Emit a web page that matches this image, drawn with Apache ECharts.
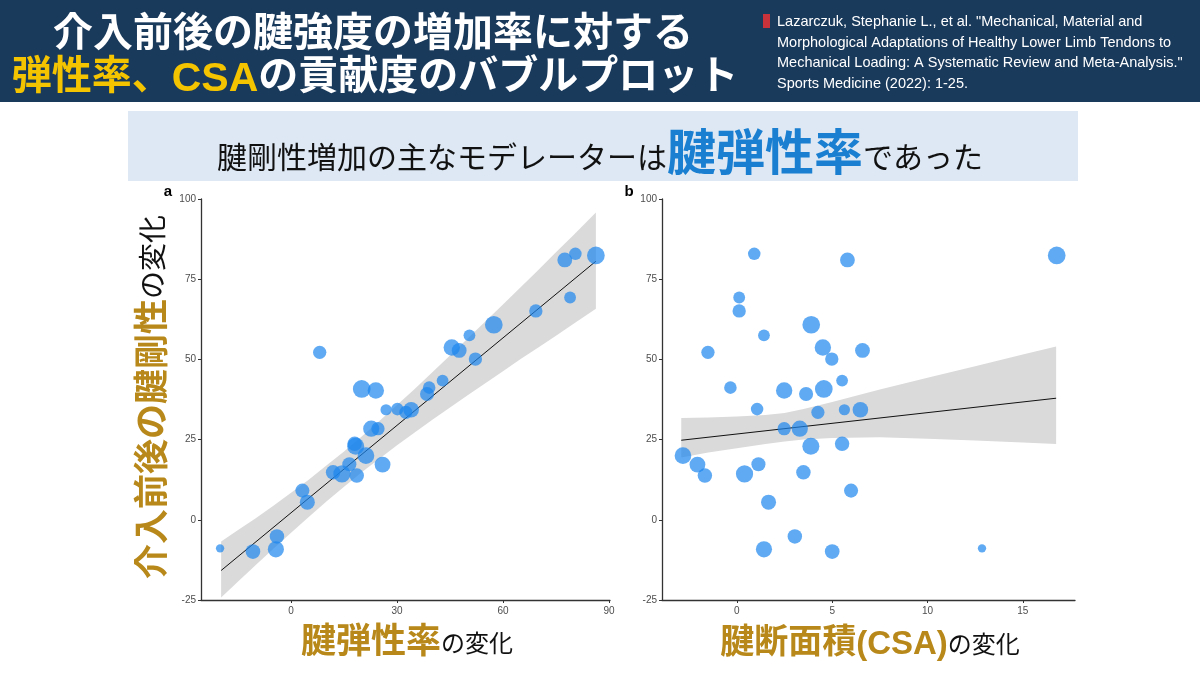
<!DOCTYPE html>
<html>
<head>
<meta charset="utf-8">
<script src="https://cdn.jsdelivr.net/npm/echarts@6/dist/echarts.min.js"></script>
<style>
html,body{margin:0;padding:0;background:#fff;}
#chart{width:1200px;height:675px;}
</style>
</head>
<body>
<div id="chart"></div>
<script>
// ---- data ----
// change in tendon stiffness (%) for each study (shared y of both panels)
const stiffnessChange = [82.4, 82.9, 81.0, 69.3, 65.1, 60.8, 57.5, 53.7, 52.8, 50.1, 52.2, 43.4, 41.2, 39.2, 40.8, 40.3,
  34.3, 34.5, 33.5, 34.3, 28.4, 28.4, 23.7, 22.9, 20.0, 17.2, 17.3, 14.8, 14.3, 13.8, 9.1, 5.5, -5.2, -9.2, -9.9, -8.9];
// change in elastic modulus (%) — panel a x
const modulusChange = [86.3, 80.5, 77.5, 79.0, 69.3, 57.4, 50.5, 45.5, 47.6, 52.2, 8.1, 42.9, 39.1, 38.5, 20.0, 24.0,
  26.9, 30.1, 32.5, 34.0, 22.7, 24.6, 18.0, 18.3, 21.2, 25.9, 16.5, 11.9, 14.4, 18.6, 3.2, 4.6, -4.0, -4.3, -10.8, -20.1];
// change in CSA (%) — panel b x
const csaChange = [16.78, 0.91, 5.80, 0.12, 0.12, 3.90, 1.42, 4.51, 6.59, 4.98, -1.52, 5.52, -0.34, 3.63, 4.56, 2.48,
  5.64, 1.06, 4.25, 6.48, 3.30, 2.48, 5.52, 3.88, -2.83, -2.07, 1.13, 3.49, 0.40, -1.68, 5.99, 1.66, 3.04, 1.42, 5.00, 12.86];
// relative study weight (bubble size)
const studyWeight = [9, 4.5, 6.3, 4, 5.1, 9, 4, 7.7, 6.3, 5.1, 5.1, 4, 4.5, 5.7, 9, 7.7,
  3.6, 4.5, 5, 7, 7.5, 5.1, 6, 8.3, 8, 7.2, 5.7, 6, 8.5, 6, 5.7, 6.5, 6, 7.5, 6.2, 2];

// regression line and confidence band, panel a
const fitAX = [-19.8, 86.3];
const fitAY = [-15.8, 80.6];
const bandAX   = [-19.8, -15, -10, -5, 0, 5, 10, 15, 20, 25, 30, 35, 40, 45, 50, 55, 60, 65, 70, 75, 80, 86.3];
const bandAUp  = [-6.8, -3.2, 0.5, 4.4, 8.4, 12.5, 16.9, 21.3, 26.0, 30.8, 35.8, 40.8, 46.0, 51.2, 56.5, 61.8, 67.1, 72.5, 77.9, 83.4, 88.8, 95.8];
const bandALow = [-24.2, -19.2, -14.1, -9.0, -4.0, 0.9, 5.7, 10.3, 14.8, 19.0, 23.2, 27.2, 31.2, 35.0, 38.8, 42.6, 46.3, 50.1, 53.7, 57.4, 61.1, 65.8];

// regression line and confidence band, panel b
const fitBX = [-2.92, 16.75];
const fitBY = [24.8, 37.9];
const bandBX   = [-2.92, -1.5, 0, 1.5, 2.5, 3.5, 5, 7.5, 10, 12.5, 15, 16.75];
const bandBUp  = [31.7, 31.9, 32.2, 32.7, 33.3, 34.5, 36.7, 40.6, 44.3, 47.9, 51.5, 54.0];
const bandBLow = [19.4, 21.0, 22.3, 23.6, 24.4, 25.0, 25.5, 25.7, 25.3, 24.7, 24.1, 23.6];

// tick labels
const yTicks = [-25, 0, 25, 50, 75, 100];
const xTicksA = [0, 30, 60, 90];
const xTicksB = [0, 5, 10, 15];

// texts
const titleLine1 = '介入前後の腱強度の増加率に対する';
const titleLine2a = '弾性率、';
const titleLine2b = 'CSA';
const titleLine2c = 'の貢献度のバブルプロット';
const citation = [
  'Lazarczuk, Stephanie L., et al. "Mechanical, Material and',
  'Morphological Adaptations of Healthy Lower Limb Tendons to',
  'Mechanical Loading: A Systematic Review and Meta-Analysis."',
  'Sports Medicine (2022): 1-25.'
];

// ---- chart ----
const chart = echarts.init(document.getElementById('chart'));
const JP = "'Noto Sans CJK JP', 'Noto Sans', sans-serif";
const AR = "'Liberation Sans', Arial, sans-serif";
const GOLD = '#b8891a';

function bandSeries(xs, lo, up, idx) {
  return {
    type: 'custom', xAxisIndex: idx, yAxisIndex: idx, z: 1, silent: true,
    data: xs.map((x, i) => [x, lo[i], up[i]]),
    renderItem: function (params, api) {
      if (params.dataIndex !== 0) return null;
      const pts = [];
      for (let i = 0; i < xs.length; i++) pts.push(api.coord([xs[i], up[i]]));
      for (let i = xs.length - 1; i >= 0; i--) pts.push(api.coord([xs[i], lo[i]]));
      return { type: 'polygon', shape: { points: pts }, style: { fill: '#dadada', stroke: null } };
    }
  };
}
function fitSeries(xs, ys, idx) {
  return {
    type: 'line', xAxisIndex: idx, yAxisIndex: idx, z: 2, silent: true,
    symbol: 'none', data: xs.map((x, i) => [x, ys[i]]),
    lineStyle: { color: '#111', width: 1 }
  };
}
function bubbleSeries(xs, idx) {
  return {
    type: 'scatter', xAxisIndex: idx, yAxisIndex: idx, z: 3,
    data: xs.map((x, i) => [x, stiffnessChange[i], studyWeight[i]]),
    symbolSize: v => 5.9 * Math.sqrt(v[2]),
    itemStyle: { color: '#1C86EE', opacity: 0.7 },
    emphasis: { disabled: true }
  };
}
function xAxis(idx, min, max, ticks) {
  return {
    type: 'value', gridIndex: idx, min: min, max: max,
    splitLine: { show: false },
    axisLine: { show: true, onZero: false, lineStyle: { color: '#333', width: 1.3 } },
    axisTick: { show: true, length: 3, customValues: ticks, lineStyle: { color: '#333' } },
    axisLabel: { customValues: ticks, fontSize: 10, color: '#4d4d4d', fontFamily: AR, margin: 6 }
  };
}
function yAxis(idx) {
  return {
    type: 'value', gridIndex: idx, min: -25, max: 100, interval: 25,
    splitLine: { show: false },
    axisLine: { show: true, onZero: false, lineStyle: { color: '#333', width: 1.3 } },
    axisTick: { show: true, length: 3, customValues: yTicks, lineStyle: { color: '#333' } },
    axisLabel: { customValues: yTicks, fontSize: 10, color: '#4d4d4d', fontFamily: AR, margin: 5 }
  };
}

const graphics = [
  { type: 'rect', shape: { x: 0, y: 0, width: 1200, height: 102 }, style: { fill: '#1a3a5c' }, z: 0 },
  { type: 'rect', shape: { x: 128, y: 111, width: 950, height: 70 }, style: { fill: '#dde8f4' }, z: 0 },
  { type: 'text', x: 373, y: 31, z: 5, style: { text: titleLine1, fill: '#fff', font: 'bold 40px ' + JP, align: 'center', verticalAlign: 'middle' } },
  { type: 'text', x: 375, y: 74, z: 5, style: {
      text: '{y|' + titleLine2a + '}{ly|' + titleLine2b + '}{w|' + titleLine2c + '}',
      align: 'center', verticalAlign: 'middle',
      rich: {
        y: { fill: '#f5c400', font: 'bold 40px ' + JP, lineHeight: 46, verticalAlign: 'middle' },
        ly: { fill: '#f5c400', font: 'bold 41px ' + AR, lineHeight: 46, verticalAlign: 'middle', padding: [12, 0, 0, 0] },
        w: { fill: '#fff', font: 'bold 40px ' + JP, lineHeight: 46, verticalAlign: 'middle' }
      } } },
  { type: 'rect', shape: { x: 763, y: 14, width: 7, height: 14 }, style: { fill: '#c8323a' }, z: 5 },
  { type: 'text', x: 600, y: 151, z: 5, style: {
      text: '{n|腱剛性増加の主なモデレーターは}{b|腱弾性率}{n|であった}',
      align: 'center', verticalAlign: 'middle',
      rich: {
        n: { fill: '#111', font: 'normal 30px ' + JP, verticalAlign: 'bottom', padding: [0, 0, 4, 0] },
        b: { fill: '#1a7fd0', font: 'bold 49px ' + JP, verticalAlign: 'bottom' }
      } } },
  { type: 'text', x: 168, y: 192, z: 5, style: { text: 'a', fill: '#000', font: 'bold 15px ' + AR, align: 'center', verticalAlign: 'middle' } },
  { type: 'text', x: 629, y: 192, z: 5, style: { text: 'b', fill: '#000', font: 'bold 15px ' + AR, align: 'center', verticalAlign: 'middle' } },
  { type: 'text', x: 151, y: 397, rotation: Math.PI / 2, z: 5, style: {
      text: '{g|介入前後の腱剛性}{k|の変化}', align: 'center', verticalAlign: 'middle',
      rich: {
        g: { fill: GOLD, font: 'bold 35px ' + JP, verticalAlign: 'bottom' },
        k: { fill: '#111', font: 'normal 28px ' + JP, verticalAlign: 'bottom', padding: [0, 0, 2, 0] }
      } } },
  { type: 'text', x: 407, y: 640, z: 5, style: {
      text: '{g|腱弾性率}{k|の変化}', align: 'center', verticalAlign: 'middle',
      rich: {
        g: { fill: GOLD, font: 'bold 35px ' + JP, verticalAlign: 'bottom' },
        k: { fill: '#111', font: 'normal 24px ' + JP, verticalAlign: 'bottom', padding: [0, 0, 3, 0] }
      } } },
  { type: 'text', x: 870, y: 640, z: 5, style: {
      text: '{g|腱断面積}{l|(CSA)}{k|の変化}', align: 'center', verticalAlign: 'middle',
      rich: {
        g: { fill: GOLD, font: 'bold 34px ' + JP, lineHeight: 40, verticalAlign: 'middle' },
        l: { fill: GOLD, font: 'bold 33px ' + AR, lineHeight: 40, verticalAlign: 'middle', padding: [10, 0, 0, 0] },
        k: { fill: '#111', font: 'normal 24px ' + JP, lineHeight: 40, verticalAlign: 'middle', padding: [8, 0, 0, 0] }
      } } }
];
citation.forEach((line, i) => {
  graphics.push({ type: 'text', x: 777, y: 22 + i * 20.7, z: 5,
    style: { text: line, fill: '#fff', font: 'normal 14.5px ' + AR, align: 'left', verticalAlign: 'middle' } });
});

const option = {
  backgroundColor: '#ffffff',
  animation: false,
  grid: [
    { left: 201, top: 199, width: 409, height: 401, containLabel: false },
    { left: 662, top: 199, width: 413, height: 401, containLabel: false }
  ],
  xAxis: [xAxis(0, -25.5, 90.3, xTicksA), xAxis(1, -3.93, 17.74, xTicksB)],
  yAxis: [yAxis(0), yAxis(1)],
  series: [
    bandSeries(bandAX, bandALow, bandAUp, 0),
    fitSeries(fitAX, fitAY, 0),
    bubbleSeries(modulusChange, 0),
    bandSeries(bandBX, bandBLow, bandBUp, 1),
    fitSeries(fitBX, fitBY, 1),
    bubbleSeries(csaChange, 1)
  ],
  graphic: graphics
};
chart.setOption(option);
</script>
</body>
</html>
